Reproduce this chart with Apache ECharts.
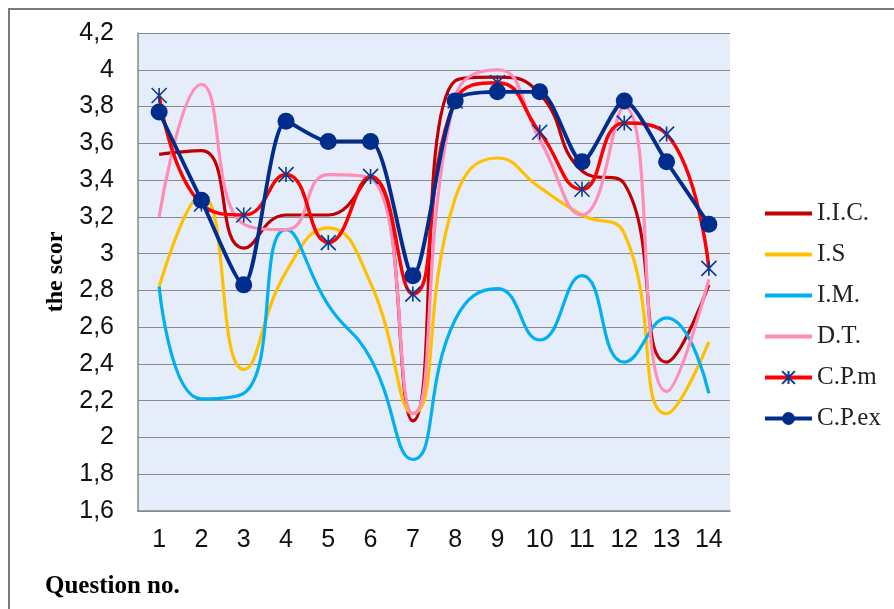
<!DOCTYPE html>
<html><head><meta charset="utf-8">
<script src="https://cdn.jsdelivr.net/npm/echarts@6/dist/echarts.min.js"></script>
<style>html,body{margin:0;padding:0;background:#fff}#c{width:894px;height:609px}</style>
</head><body><div id="c"></div>
<script>
const questions = ['1','2','3','4','5','6','7','8','9','10','11','12','13','14'];
const seriesNames = ['I.I.C.','I.S','I.M.','D.T.','C.P.m','C.P.ex'];
const iic  = [3.54, 3.56, 3.03, 3.21, 3.21, 3.42, 2.09, 3.94, 3.96, 3.87, 3.45, 3.38, 2.41, 2.83];
const is_  = [2.82, 3.32, 2.37, 2.90, 3.14, 2.84, 2.13, 3.30, 3.52, 3.36, 3.21, 3.11, 2.13, 2.52];
const im   = [2.82, 2.21, 2.24, 3.13, 2.72, 2.43, 1.88, 2.64, 2.81, 2.53, 2.88, 2.41, 2.65, 2.24];
const dt   = [3.20, 3.92, 3.16, 3.13, 3.43, 3.41, 2.13, 3.85, 4.00, 3.62, 3.21, 3.80, 2.25, 2.86];
const cpm  = [3.86, 3.27, 3.21, 3.43, 3.06, 3.42, 2.78, 3.83, 3.93, 3.66, 3.35, 3.71, 3.65, 2.92];
const cpex = [3.77, 3.29, 2.83, 3.72, 3.61, 3.61, 2.88, 3.83, 3.88, 3.88, 3.50, 3.83, 3.50, 3.16];
const yMin = 1.6, yMax = 4.2, yStep = 0.2;

const colors = ['#C00000','#FFC000','#00B0F0','#FF8DB8','#FF0000','#002D8C'];
const navy = '#0A3A8F';
const star = 'path://M0,-8L0,8M-8,-8L8,8M-8,8L8,-8';
// legend icon: plain thick line inside a 47x16 box (corner dots keep the box size)
const lineIcon = 'path://M0,0h0.01v0.01h-0.01zM0,6h47v4h-47zM46.99,15.99h0.01v0.01h-0.01z';

function plain(name, data, color) {
  return { name, type:'line', data, smooth:0.5, symbol:'none',
    lineStyle:{color, width:3.2}, itemStyle:{color}, z:2 };
}
const chart = echarts.init(document.getElementById('c'), null, {renderer:'canvas'});
chart.setOption({
  animation:false,
  grid:{left:138, top:33, right:164, bottom:98, show:true, backgroundColor:'#E5ECFA', borderWidth:0},
  xAxis:{type:'category', data:questions, boundaryGap:true,
    axisLine:{lineStyle:{color:'#888', width:1.5}}, axisTick:{show:false},
    axisLabel:{fontFamily:'Liberation Sans', fontSize:25, color:'#111', margin:17}},
  yAxis:{type:'value', min:yMin, max:yMax, interval:yStep,
    axisLine:{show:true, lineStyle:{color:'#888', width:1.5}}, axisTick:{show:false},
    splitLine:{lineStyle:{color:'#8a8a8a', width:1.2}},
    axisLabel:{fontFamily:'Liberation Sans', fontSize:25, color:'#111', margin:24,
      formatter:v=>{const r=Math.round(v*10)/10; return (Number.isInteger(r)?String(r):r.toFixed(1)).replace('.',',');}}},
  legend:{orient:'vertical', left:763, top:201, padding:0, itemWidth:47, itemHeight:16, itemGap:16,
    lineStyle:{width:4},
    data:[
      {name:seriesNames[0], icon:lineIcon},
      {name:seriesNames[1], icon:lineIcon},
      {name:seriesNames[2], icon:lineIcon},
      {name:seriesNames[3], icon:lineIcon},
      {name:seriesNames[4]},
      {name:seriesNames[5]}
    ],
    textStyle:{fontFamily:'Liberation Serif', fontSize:25, lineHeight:24, color:'#222'}},
  graphic:[
    {type:'rect', shape:{x:9, y:9, width:1000, height:1000}, style:{fill:'none', stroke:'#7a7a7a', lineWidth:2}, z:-1},
    {type:'text', x:56, y:272, rotation:Math.PI/2,
      style:{text:'the scor', font:'bold 24px "Liberation Serif"', fill:'#000', textAlign:'center', textVerticalAlign:'middle'}},
    {type:'text', x:45, y:587,
      style:{text:'Question no.', font:'bold 25px "Liberation Serif"', fill:'#000', textAlign:'left', textVerticalAlign:'middle'}}
  ],
  series:[
    plain(seriesNames[0], iic, colors[0]),
    plain(seriesNames[1], is_, colors[1]),
    plain(seriesNames[2], im, colors[2]),
    plain(seriesNames[3], dt, colors[3]),
    { name:seriesNames[4], type:'line', data:cpm, smooth:0.5, symbol:star, symbolSize:15,
      lineStyle:{color:colors[4], width:3.5},
      itemStyle:{color:navy, borderColor:navy, borderWidth:1.6}, z:3 },
    { name:seriesNames[5], type:'line', data:cpex, smooth:0.25, symbol:'circle', symbolSize:17,
      lineStyle:{color:colors[5], width:3.8},
      itemStyle:{color:colors[5], borderWidth:0}, z:4 }
  ]
});
</script></body></html>
